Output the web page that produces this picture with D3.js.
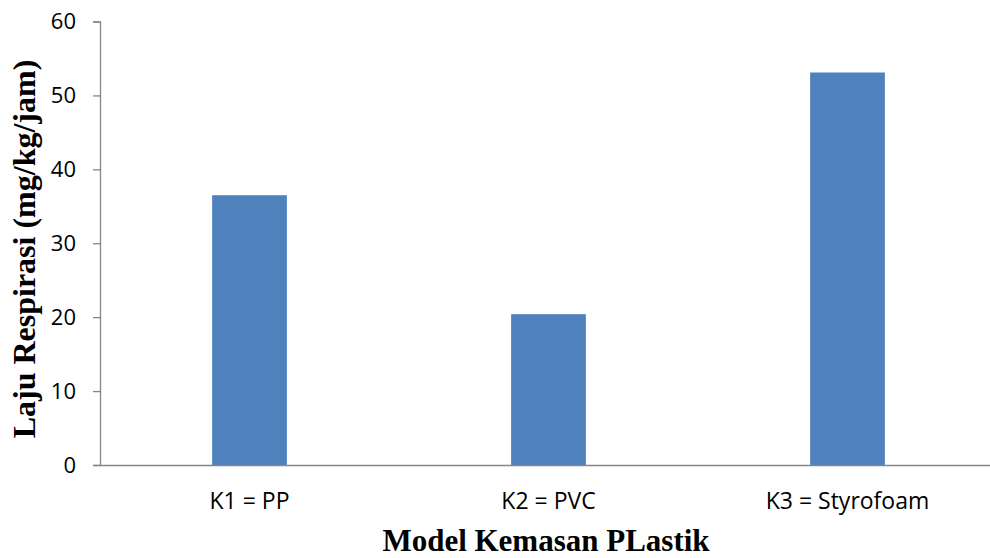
<!DOCTYPE html>
<html>
<head>
<meta charset="utf-8">
<script src="https://cdn.jsdelivr.net/npm/d3@7"></script>
<style>
  html, body { margin: 0; padding: 0; background: #fff; }
  svg { display: block; }
</style>
</head>
<body>
<svg id="chart" width="990" height="558"></svg>
<script>
// Respiration rate per plastic packaging type
const categories = ["K1 = PP", "K2 = PVC", "K3 = Styrofoam"];
const values = [36.5, 20.4, 53.1];
const yTicks = [0, 10, 20, 30, 40, 50, 60];

const svg = d3.select("#chart");
const margin = { left: 100, top: 21.5, right: -7, bottom: 93 };
const W = 990, H = 558;
const x0 = margin.left, x1 = W - margin.right;
const y0 = H - margin.bottom, y1 = margin.top;

const x = d3.scaleBand().domain(categories).range([x0, x1]).padding(0);
const y = d3.scaleLinear().domain([0, 60]).range([y0, y1]);

const axisColor = "#868686";
const tickFont = "'Open Sans', 'Noto Sans', sans-serif";
const titleFont = "'Liberation Serif', 'Times New Roman', serif";

// Bars
const barW = x.bandwidth() * 0.25;
svg.append("g").selectAll("rect")
  .data(values)
  .join("rect")
  .attr("x", (d, i) => x(categories[i]) + x.bandwidth() / 2 - barW / 2)
  .attr("y", d => y(d))
  .attr("width", barW)
  .attr("height", d => y(0) - y(d))
  .attr("fill", "#4F81BD");

// Y axis
const yAxis = d3.axisLeft(y).tickValues(yTicks).tickSize(7).tickPadding(17);
const gy = svg.append("g").attr("transform", `translate(${x0},0)`).call(yAxis);
gy.select(".domain").attr("stroke", axisColor).attr("stroke-width", 1.3);
gy.selectAll(".tick line").attr("stroke", axisColor).attr("stroke-width", 1.3);
gy.selectAll(".tick text")
  .attr("fill", "#000")
  .style("font-family", tickFont)
  .style("font-size", "22px");

// X axis
const xAxis = d3.axisBottom(x).tickSize(0).tickPadding(28);
const gx = svg.append("g").attr("transform", `translate(0,${y0})`).call(xAxis);
gx.select(".domain").attr("stroke", axisColor).attr("stroke-width", 1.3);
gx.selectAll(".tick text")
  .attr("fill", "#000")
  .style("font-family", tickFont)
  .style("font-size", "23px");

// Axis titles
svg.append("text")
  .attr("x", 546)
  .attr("y", 551)
  .attr("text-anchor", "middle")
  .style("font-family", titleFont)
  .style("font-weight", "bold")
  .style("font-size", "31px")
  .text("Model Kemasan PLastik");

svg.append("text")
  .attr("transform", "translate(35,249) rotate(-90)")
  .attr("text-anchor", "middle")
  .style("font-family", titleFont)
  .style("font-weight", "bold")
  .style("font-size", "32px")
  .text("Laju Respirasi (mg/kg/jam)");
</script>
</body>
</html>
